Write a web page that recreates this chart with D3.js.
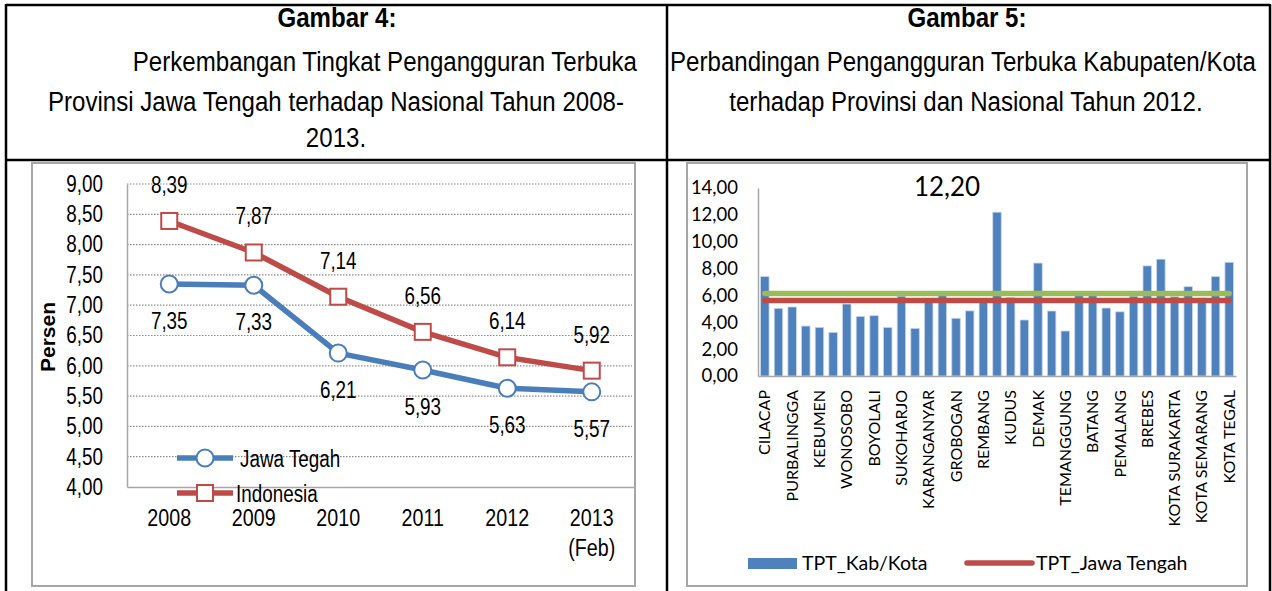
<!DOCTYPE html>
<html>
<head>
<meta charset="utf-8">
<script src="https://cdn.jsdelivr.net/npm/d3@7"></script>
<style>
  html, body { margin: 0; padding: 0; background: #fff; }
  svg { display: block; }
  .narrow { font-family: "Liberation Sans", Arial, sans-serif; }
  .cal { font-family: Lato, "Open Sans", sans-serif; }
</style>
</head>
<body>
<svg id="chart" width="1272" height="591"></svg>
<script>
// ---------- Data ----------
const years = ["2008", "2009", "2010", "2011", "2012", "2013"];
const yearSub = ["", "", "", "", "", "(Feb)"];
const jawaTengah = [7.35, 7.33, 6.21, 5.93, 5.63, 5.57];
const indonesia = [8.39, 7.87, 7.14, 6.56, 6.14, 5.92];
const leftTicks = [4.0, 4.5, 5.0, 5.5, 6.0, 6.5, 7.0, 7.5, 8.0, 8.5, 9.0];

const regions = ["CILACAP", "BANYUMAS", "PURBALINGGA", "BANJARNEGARA", "KEBUMEN", "PURWOREJO",
  "WONOSOBO", "MAGELANG", "BOYOLALI", "KLATEN", "SUKOHARJO", "WONOGIRI", "KARANGANYAR", "SRAGEN",
  "GROBOGAN", "BLORA", "REMBANG", "PATI", "KUDUS", "JEPARA", "DEMAK", "SEMARANG", "TEMANGGUNG",
  "KENDAL", "BATANG", "PEKALONGAN", "PEMALANG", "TEGAL", "BREBES", "KOTA MAGELANG",
  "KOTA SURAKARTA", "KOTA SALATIGA", "KOTA SEMARANG", "KOTA PEKALONGAN", "KOTA TEGAL"];
const tptKab = [7.40, 5.04, 5.14, 3.72, 3.62, 3.25, 5.36, 4.44, 4.49, 3.62, 5.95, 3.55, 5.70,
  6.05, 4.30, 4.85, 5.60, 12.20, 5.85, 4.17, 8.41, 4.84, 3.35, 6.20, 6.00, 5.06, 4.78, 5.95,
  8.20, 8.70, 5.90, 6.65, 5.80, 7.40, 8.47];
const tptJateng = 5.63;
const tptNasional = 6.14;
const rightTicks = [0, 2, 4, 6, 8, 10, 12, 14];

const fmt = v => d3.format(".2f")(v).replace(".", ",");

// condense text horizontally around its own x anchor (no narrow font installed)
function narrow(sel, sx) {
  sel.each(function () {
    const t = d3.select(this);
    const x = +t.attr("x") || 0;
    t.attr("transform", `translate(${x},0) scale(${sx},1) translate(${-x},0)`);
  });
  return sel;
}

const svg = d3.select("#chart");
const BLUE = "#4a7ebb", RED = "#be4b48", GREEN = "#9bbb59", BAR = "#4f81bd", GRAY = "#a6a6a6";
const NX = 0.82;

// ---------- Table frame ----------
const frame = svg.append("g").attr("stroke", "#000").attr("stroke-width", 2.5).attr("fill", "none");
frame.append("line").attr("x1", 6).attr("x2", 6).attr("y1", 4).attr("y2", 591);
frame.append("line").attr("x1", 1270).attr("x2", 1270).attr("y1", 4).attr("y2", 591);
frame.append("line").attr("x1", 6).attr("x2", 1270).attr("y1", 5).attr("y2", 5);
frame.append("line").attr("x1", 6).attr("x2", 1270).attr("y1", 160).attr("y2", 160);
frame.append("line").attr("x1", 667).attr("x2", 667).attr("y1", 4).attr("y2", 591);

// ---------- Titles ----------
const tl = svg.append("g").attr("class", "narrow").attr("fill", "#000").attr("font-size", 28);
const titles = [
  { x: 337, y: 27, a: "middle", b: true, t: "Gambar 4:" },
  { x: 637, y: 71, a: "end", b: false, t: "Perkembangan Tingkat Pengangguran Terbuka" },
  { x: 336, y: 111, a: "middle", b: false, t: "Provinsi Jawa Tengah terhadap Nasional Tahun 2008-" },
  { x: 336, y: 147, a: "middle", b: false, t: "2013." },
  { x: 967, y: 27, a: "middle", b: true, t: "Gambar 5:" },
  { x: 963, y: 71, a: "middle", b: false, t: "Perbandingan Pengangguran Terbuka Kabupaten/Kota" },
  { x: 966, y: 111, a: "middle", b: false, t: "terhadap Provinsi dan Nasional Tahun 2012." }
];
narrow(tl.selectAll("text").data(titles).join("text")
  .attr("x", d => d.x).attr("y", d => d.y).attr("text-anchor", d => d.a)
  .attr("font-weight", d => d.b ? "bold" : "normal").text(d => d.t), 0.86);

// ---------- Chart boxes ----------
svg.append("rect").attr("x", 32).attr("y", 163).attr("width", 603).attr("height", 423)
  .attr("fill", "none").attr("stroke", GRAY).attr("stroke-width", 2);
svg.append("rect").attr("x", 687).attr("y", 163).attr("width", 560).attr("height", 423)
  .attr("fill", "none").attr("stroke", GRAY).attr("stroke-width", 2);

// ---------- Left chart ----------
{
  const x = d3.scaleBand().domain(years).range([127, 634]);
  const y = d3.scaleLinear().domain([4, 9]).range([487, 184]);
  const g = svg.append("g").attr("class", "narrow");

  // gridlines
  g.append("g").selectAll("line").data(leftTicks.filter(t => t > 4)).join("line")
    .attr("x1", 127).attr("x2", 632).attr("y1", d => y(d)).attr("y2", d => y(d))
    .attr("stroke", "#8c8c8c").attr("stroke-width", 1.2).attr("stroke-dasharray", "1.5,1.5");

  // y axis
  const ya = g.append("g").attr("transform", "translate(127,0)")
    .call(d3.axisLeft(y).tickValues(leftTicks).tickFormat(fmt).tickSize(0).tickPadding(24));
  ya.select(".domain").attr("stroke", GRAY).attr("stroke-width", 1.5);
  narrow(ya.selectAll("text").attr("font-size", 23).attr("fill", "#000")
    .attr("font-family", "Liberation Sans, Arial, sans-serif"), NX);

  // x axis
  const xa = g.append("g").attr("transform", "translate(0,487)")
    .call(d3.axisBottom(x).tickSize(0).tickPadding(22));
  xa.select(".domain").attr("stroke", GRAY).attr("stroke-width", 1.5);
  narrow(xa.selectAll("text").attr("font-size", 24).attr("fill", "#000")
    .attr("font-family", "Liberation Sans, Arial, sans-serif"), NX);
  narrow(g.selectAll(".sub").data(years).join("text").attr("class", "sub")
    .attr("x", d => x(d) + x.bandwidth() / 2).attr("y", 556)
    .attr("text-anchor", "middle").attr("font-size", 24).text((d, i) => yearSub[i]), NX);

  // y title
  g.append("text").attr("transform", "translate(55,337) rotate(-90)")
    .attr("text-anchor", "middle").attr("font-weight", "bold").attr("font-size", 21)
    .attr("font-family", "Liberation Sans, Arial, sans-serif").text("Persen");

  const cx = d => x(d) + x.bandwidth() / 2;
  const line = d3.line().x((d, i) => cx(years[i])).y(d => y(d));

  // lines
  g.append("path").datum(indonesia).attr("d", line).attr("fill", "none")
    .attr("stroke", RED).attr("stroke-width", 5.5).attr("stroke-linejoin", "round");
  g.append("path").datum(jawaTengah).attr("d", line).attr("fill", "none")
    .attr("stroke", BLUE).attr("stroke-width", 5.5).attr("stroke-linejoin", "round");

  // markers
  g.selectAll(".sq").data(indonesia).join("rect").attr("class", "sq")
    .attr("x", (d, i) => cx(years[i]) - 8).attr("y", d => y(d) - 8)
    .attr("width", 16).attr("height", 16).attr("fill", "#fff").attr("stroke", RED).attr("stroke-width", 2);
  g.selectAll(".ci").data(jawaTengah).join("circle").attr("class", "ci")
    .attr("cx", (d, i) => cx(years[i])).attr("cy", d => y(d)).attr("r", 8.5)
    .attr("fill", "#fff").attr("stroke", BLUE).attr("stroke-width", 2);

  // labels
  narrow(g.selectAll(".li").data(indonesia).join("text").attr("class", "li")
    .attr("x", (d, i) => cx(years[i])).attr("y", d => y(d) - 28)
    .attr("text-anchor", "middle").attr("font-size", 23).text(fmt), NX);
  narrow(g.selectAll(".lj").data(jawaTengah).join("text").attr("class", "lj")
    .attr("x", (d, i) => cx(years[i])).attr("y", d => y(d) + 45)
    .attr("text-anchor", "middle").attr("font-size", 23).text(fmt), NX);

  // legend
  const lg = g.append("g");
  lg.append("line").attr("x1", 177).attr("x2", 233).attr("y1", 458).attr("y2", 458)
    .attr("stroke", BLUE).attr("stroke-width", 5.5);
  lg.append("circle").attr("cx", 205).attr("cy", 458).attr("r", 8.5)
    .attr("fill", "#fff").attr("stroke", BLUE).attr("stroke-width", 2);
  narrow(lg.append("text").attr("x", 240).attr("y", 467).attr("font-size", 23).text("Jawa Tegah"), NX);
  lg.append("line").attr("x1", 177).attr("x2", 233).attr("y1", 493).attr("y2", 493)
    .attr("stroke", RED).attr("stroke-width", 5.5);
  lg.append("rect").attr("x", 197).attr("y", 485).attr("width", 16).attr("height", 16)
    .attr("fill", "#fff").attr("stroke", RED).attr("stroke-width", 2);
  narrow(lg.append("text").attr("x", 236).attr("y", 502).attr("font-size", 23).text("Indonesia"), NX);
}

// ---------- Right chart ----------
{
  const x = d3.scaleBand().domain(regions).range([758, 1236]).paddingInner(0.38).paddingOuter(0.19);
  const y = d3.scaleLinear().domain([0, 14]).range([376, 188]);
  const g = svg.append("g").attr("class", "cal");

  // bars
  g.selectAll(".bar").data(tptKab).join("rect").attr("class", "bar")
    .attr("x", (d, i) => x(regions[i])).attr("y", d => y(d))
    .attr("width", x.bandwidth()).attr("height", d => y(0) - y(d))
    .attr("fill", BAR).attr("stroke", "#c6d6ea").attr("stroke-width", 0.8);

  // reference lines
  const x0 = x(regions[0]) + x.bandwidth() / 2;
  const x1 = x(regions[regions.length - 1]) + x.bandwidth() / 2;
  g.append("line").attr("x1", x0).attr("x2", x1).attr("y1", y(tptNasional)).attr("y2", y(tptNasional))
    .attr("stroke", GREEN).attr("stroke-width", 5.5).attr("stroke-linecap", "round");
  g.append("line").attr("x1", x0).attr("x2", x1).attr("y1", y(tptJateng)).attr("y2", y(tptJateng))
    .attr("stroke", RED).attr("stroke-width", 5.5).attr("stroke-linecap", "round");

  // axes
  const ya = g.append("g").attr("transform", "translate(758,0)")
    .call(d3.axisLeft(y).tickValues(rightTicks).tickFormat(fmt).tickSize(0).tickPadding(20));
  ya.select(".domain").attr("stroke", GRAY).attr("stroke-width", 1.5);
  ya.selectAll("text").attr("font-size", 18.5).attr("fill", "#000").attr("font-family", "Lato, sans-serif");

  const xa = g.append("g").attr("transform", "translate(0,376)")
    .call(d3.axisBottom(x).tickSize(0).tickValues(regions.filter((d, i) => i % 2 === 0)));
  xa.select(".domain").attr("stroke", GRAY).attr("stroke-width", 1.5);
  xa.selectAll("text").attr("font-size", 16).attr("fill", "#000").attr("font-family", "Lato, sans-serif")
    .attr("text-anchor", "end").attr("dy", "0.35em")
    .attr("transform", "translate(0,14) rotate(-90)").attr("x", 0).attr("y", 0);

  // data label for max
  const iMax = d3.maxIndex(tptKab);
  g.append("text").attr("x", x(regions[iMax]) + x.bandwidth() / 2 - 50).attr("y", 196)
    .attr("text-anchor", "middle").attr("font-size", 26).attr("fill", "#000").text(fmt(tptKab[iMax]));

  // legend
  g.append("rect").attr("x", 748).attr("y", 558).attr("width", 49).attr("height", 11).attr("fill", BAR);
  g.append("text").attr("x", 802).attr("y", 570).attr("font-size", 19.5).text("TPT_Kab/Kota");
  g.append("line").attr("x1", 967).attr("x2", 1032).attr("y1", 563).attr("y2", 563)
    .attr("stroke", RED).attr("stroke-width", 5.5).attr("stroke-linecap", "round");
  g.append("text").attr("x", 1036).attr("y", 570).attr("font-size", 19.5).text("TPT_Jawa Tengah");
}
</script>
</body>
</html>
